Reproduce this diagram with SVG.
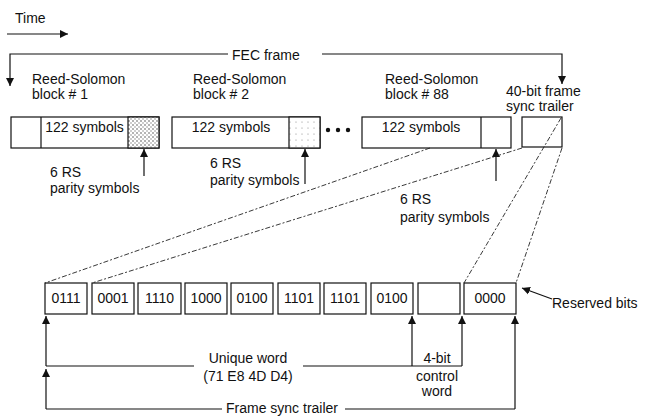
<svg xmlns="http://www.w3.org/2000/svg" width="651" height="417" viewBox="0 0 651 417">
<defs>
<style>
text{font-family:"Liberation Sans",Arial,sans-serif;font-size:14px;fill:#111}
.c{text-anchor:middle}
.box{fill:#fff;stroke:#111;stroke-width:1.2}
.ln{fill:none;stroke:#111;stroke-width:1.2}
.dl{fill:none;stroke:#222;stroke-width:0.9;stroke-dasharray:5 2 2 2}
</style>
<marker id="ah" viewBox="0 0 10 10" refX="10" refY="5" markerWidth="8" markerHeight="9" markerUnits="userSpaceOnUse" orient="auto">
<path d="M0,0 L10,5 L0,10 Z" fill="#111"/>
</marker>
<pattern id="dots" width="4" height="4" patternUnits="userSpaceOnUse">
<rect width="4" height="4" fill="#fff"/>
<circle cx="1" cy="1" r="0.8" fill="#555"/>
<circle cx="3" cy="3" r="0.7" fill="#777"/>
</pattern>
<pattern id="dotsl" width="6" height="6" patternUnits="userSpaceOnUse">
<rect width="6" height="6" fill="#fff"/>
<circle cx="2" cy="2" r="0.6" fill="#888"/>
</pattern>
</defs>

<g id="time">
<text x="15" y="23">Time</text>
</g>

<g id="fec-frame">
<text x="232" y="60">FEC frame</text>
</g>

<g id="rs-block-1">
<text x="32" y="84">Reed-Solomon</text>
<text x="32" y="99">block # 1</text>
<rect class="box" x="11" y="117" width="148" height="31"/>
<line class="ln" x1="41" y1="117" x2="41" y2="148"/>
<rect x="128" y="117" width="31" height="31" fill="url(#dots)" stroke="#111" stroke-width="1.2"/>
<text class="c" x="84.5" y="132">122 symbols</text>
</g>

<g id="rs-block-2">
<text x="193" y="84">Reed-Solomon</text>
<text x="193" y="99">block # 2</text>
<rect class="box" x="172" y="117" width="148" height="31"/>
<rect x="289" y="117" width="31" height="31" fill="url(#dotsl)" stroke="#111" stroke-width="1.2"/>
<text class="c" x="231" y="132">122 symbols</text>
</g>

<g id="ellipsis">
<circle cx="328" cy="130" r="2.2" fill="#111"/>
<circle cx="338" cy="130" r="2.2" fill="#111"/>
<circle cx="348" cy="130" r="2.2" fill="#111"/>
</g>

<g id="rs-block-88">
<text x="385" y="84">Reed-Solomon</text>
<text x="385" y="99">block # 88</text>
<rect class="box" x="362" y="117" width="149" height="31"/>
<line class="ln" x1="481" y1="117" x2="481" y2="148"/>
<text class="c" x="421" y="132">122 symbols</text>
</g>

<g id="trailer-40bit">
<text x="506" y="96">40-bit frame</text>
<text x="506" y="111">sync trailer</text>
<rect class="box" x="522" y="117" width="40" height="30"/>
</g>

<g id="parity-labels">
<text x="50" y="177">6 RS</text>
<text x="50" y="193">parity symbols</text>
<text x="210" y="168">6 RS</text>
<text x="210" y="185">parity symbols</text>
<text x="400" y="204">6 RS</text>
<text x="400" y="222">parity symbols</text>
</g>

<g id="nibbles">
<rect class="box" x="45" y="283" width="42" height="31"/><text class="c" x="66" y="303">0111</text>
<rect class="box" x="92" y="283" width="42" height="31"/><text class="c" x="113" y="303">0001</text>
<rect class="box" x="138" y="283" width="43" height="31"/><text class="c" x="159.5" y="303">1110</text>
<rect class="box" x="185" y="283" width="42" height="31"/><text class="c" x="206" y="303">1000</text>
<rect class="box" x="231" y="283" width="42" height="31"/><text class="c" x="252" y="303">0100</text>
<rect class="box" x="278" y="283" width="42" height="31"/><text class="c" x="299" y="303">1101</text>
<rect class="box" x="324" y="283" width="42" height="31"/><text class="c" x="345" y="303">1101</text>
<rect class="box" x="371" y="283" width="42" height="31"/><text class="c" x="392" y="303">0100</text>
<rect class="box" x="418" y="283" width="42" height="31"/>
<rect class="box" x="464" y="283" width="52" height="31"/><text class="c" x="490" y="303">0000</text>
</g>

<g id="reserved-bits">
<text x="552" y="308">Reserved bits</text>
</g>

<g id="unique-word">
<text class="c" x="248" y="363">Unique word</text>
<text class="c" x="248" y="381">(71 E8 4D D4)</text>
</g>

<g id="control-word">
<text class="c" x="437" y="363">4-bit</text>
<text class="c" x="437" y="381">control</text>
<text class="c" x="437" y="396">word</text>
</g>

<g id="frame-sync-trailer">
<text x="226" y="413">Frame sync trailer</text>
</g>

<g id="connectors">
<line class="ln" x1="7" y1="34" x2="68" y2="34" marker-end="url(#ah)"/>
<polyline class="ln" points="228,54 10,54 10,86" marker-end="url(#ah)"/>
<polyline class="ln" points="322,54 562,54 562,84" marker-end="url(#ah)"/>
<line class="ln" x1="144" y1="176" x2="144" y2="149" marker-end="url(#ah)"/>
<line class="ln" x1="305" y1="184" x2="305" y2="149" marker-end="url(#ah)"/>
<line class="ln" x1="496" y1="181" x2="496" y2="149" marker-end="url(#ah)"/>
<line class="dl" x1="430" y1="148" x2="45" y2="283"/>
<line class="dl" x1="522" y1="148" x2="92" y2="283"/>
<line class="dl" x1="561" y1="118" x2="464" y2="283"/>
<line class="dl" x1="562" y1="148" x2="516" y2="283"/>
<line class="ln" x1="552" y1="299" x2="522" y2="288" marker-end="url(#ah)"/>
<line class="ln" x1="46" y1="366" x2="46" y2="316" marker-end="url(#ah)"/>
<line class="ln" x1="46" y1="366" x2="194" y2="366"/>
<line class="ln" x1="303" y1="366" x2="462" y2="366"/>
<line class="ln" x1="412" y1="366" x2="412" y2="316" marker-end="url(#ah)"/>
<line class="ln" x1="462" y1="366" x2="462" y2="316" marker-end="url(#ah)"/>
<line class="ln" x1="46" y1="409" x2="46" y2="369" marker-end="url(#ah)"/>
<line class="ln" x1="46" y1="409" x2="222" y2="409"/>
<line class="ln" x1="345" y1="409" x2="515" y2="409"/>
<line class="ln" x1="515" y1="409" x2="515" y2="316" marker-end="url(#ah)"/>
</g>
</svg>
